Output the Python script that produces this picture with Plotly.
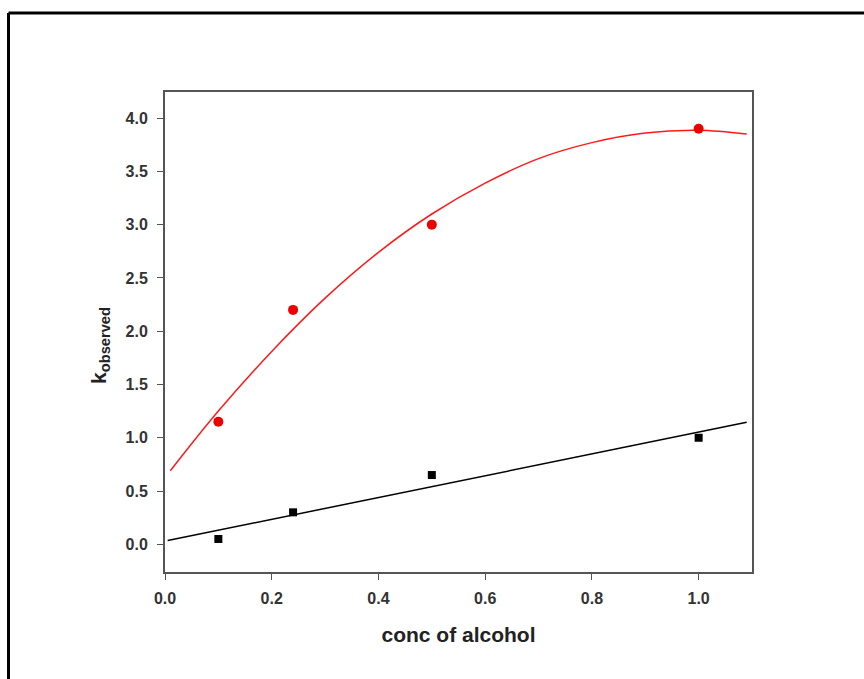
import plotly.graph_objects as go

# measured data
conc = [0.1, 0.24, 0.5, 1.0]
k_red = [1.15, 2.2, 3.0, 3.9]
k_black = [0.05, 0.3, 0.65, 1.0]

# fitted curves
fit_red_x = [0.01, 0.1, 0.2, 0.3, 0.4, 0.5, 0.6, 0.7, 0.8, 0.9, 1.0, 1.09]
fit_red_y = [0.69, 1.25, 1.81, 2.31, 2.74, 3.10, 3.39, 3.62, 3.77, 3.86, 3.885, 3.85]
fit_black_x = [0.005, 1.09]
fit_black_y = [0.035, 1.145]

x_ticks = [0.0, 0.2, 0.4, 0.6, 0.8, 1.0]
y_ticks = [0.0, 0.5, 1.0, 1.5, 2.0, 2.5, 3.0, 3.5, 4.0]

fig = go.Figure()
fig.add_trace(go.Scatter(x=fit_red_x, y=fit_red_y, mode="lines", line=dict(color="#ff1a1a", width=1.5, shape="spline"), showlegend=False))
fig.add_trace(go.Scatter(x=fit_black_x, y=fit_black_y, mode="lines", line=dict(color="black", width=1.5), showlegend=False))
fig.add_trace(go.Scatter(x=conc, y=k_red, mode="markers", marker=dict(symbol="circle", size=10, color="#ee0000"), showlegend=False))
fig.add_trace(go.Scatter(x=conc, y=k_black, mode="markers", marker=dict(symbol="square", size=8, color="black"), showlegend=False))

fam = "Liberation Sans, Arial, sans-serif"
axis_font = dict(family=fam, size=16, color="#333333", weight="bold")
title_font = dict(family=fam, size=21, color="#222222", weight="bold")
fig.update_xaxes(range=[0, 1.1], tickvals=x_ticks, ticktext=[f"{v:.1f}" for v in x_ticks],
                 showline=True, linecolor="#555555", linewidth=2, mirror=True,
                 ticks="outside", ticklen=6, tickwidth=1, tickcolor="#555555",
                 showgrid=False, zeroline=False, tickfont=axis_font, ticklabelstandoff=5,
                 title=dict(text="conc of alcohol", standoff=21, font=title_font))
fig.update_yaxes(range=[-0.26, 4.245], tickvals=y_ticks, ticktext=[f"{v:.1f}" for v in y_ticks],
                 showline=True, linecolor="#555555", linewidth=2, mirror=True,
                 ticks="outside", ticklen=6, tickwidth=1, tickcolor="#555555",
                 showgrid=False, zeroline=False, tickfont=axis_font, ticklabelstandoff=6)

# y-axis title placed as a rotated annotation
fig.add_annotation(text="k<sub>observed</sub>", xref="paper", yref="paper",
                   x=(100 - 165) / 587, y=(572 - 346) / 480, xanchor="center", yanchor="middle",
                   textangle=-90, showarrow=False, font=title_font)

# outer frame (left and top edges)
fx = (8.5 - 165) / 587
fy = (572 - 13) / 480
fig.add_shape(type="line", xref="paper", yref="paper", x0=fx, y0=-0.3, x1=fx, y1=fy, line=dict(color="black", width=3))
fig.add_shape(type="line", xref="paper", yref="paper", x0=fx, y0=fy, x1=1.25, y1=fy, line=dict(color="black", width=3))

fig.update_layout(width=864, height=679, margin=dict(l=165, r=112, t=92, b=107),
                  paper_bgcolor="white", plot_bgcolor="white")
fig.write_html("out.html", config={"displayModeBar": False},
               post_script="document.body.style.margin='0';")
